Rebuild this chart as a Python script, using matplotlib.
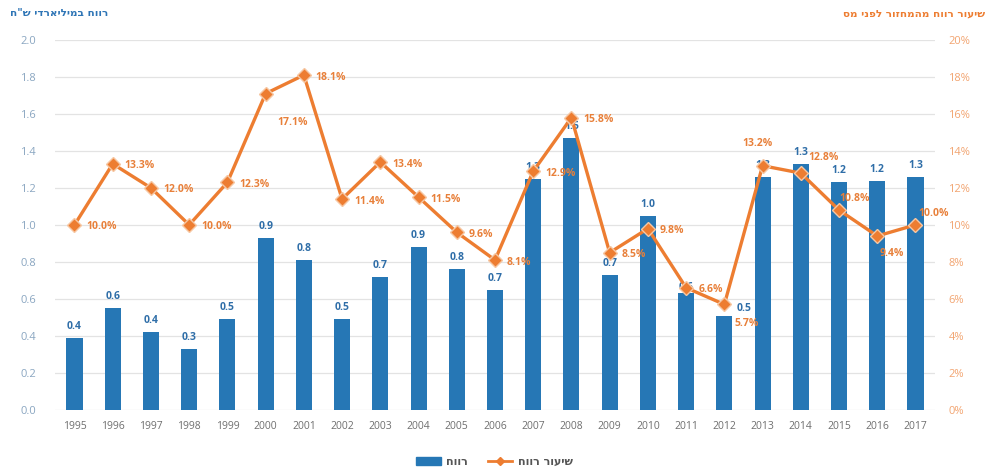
import matplotlib
matplotlib.use("Agg")
import matplotlib.pyplot as plt
from matplotlib.lines import Line2D
from matplotlib.patches import Patch

plt.rcParams['font.family'] = ['Open Sans', 'DejaVu Sans']

years = [str(y) for y in range(1995, 2018)]
profit = [0.39, 0.55, 0.42, 0.33, 0.49, 0.93, 0.81, 0.49, 0.72, 0.88, 0.76, 0.65,
          1.25, 1.47, 0.73, 1.05, 0.63, 0.51, 1.26, 1.33, 1.23, 1.24, 1.26]
profit_labels = ['0.4', '0.6', '0.4', '0.3', '0.5', '0.9', '0.8', '0.5', '0.7', '0.9', '0.8', '0.7',
                 '1.3', '1.5', '0.7', '1.0', '0.6', '0.5', '1.3', '1.3', '1.2', '1.2', '1.3']
rate = [10.0, 13.3, 12.0, 10.0, 12.3, 17.1, 18.1, 11.4, 13.4, 11.5, 9.6, 8.1,
        12.9, 15.8, 8.5, 9.8, 6.6, 5.7, 13.2, 12.8, 10.8, 9.4, 10.0]
left_title = 'רווח במיליארדי ש"ח'
right_title = 'שיעור רווח מהמחזור לפני מס'
bar_name = 'רווח'
line_name = 'שיעור רווח'

def rtl(s):
    return s[::-1]

BLUE = '#2677b5'
ORANGE = '#ed7d31'
BLUE_TXT = '#2f6ea8'
ORANGE_TXT = '#e8803a'

# label offsets in pixels (layout only)
rate_off = [(12, -2)] * 23
rate_off = list(rate_off)
rate_off[5] = (12, -29)
rate_off[17] = (10, -19)
rate_off[18] = (-20, 22)
rate_off[19] = (8, 16)
rate_off[20] = (0, 12)
rate_off[21] = (2, -18)
rate_off[22] = (3, 11)
bar_off = [(0, 6)] * 23
bar_off = list(bar_off)
bar_off[17] = (20, 2)
bar_off[16] = (0, 0)

fig = plt.figure(figsize=(9.89, 4.70), dpi=100)
ax = fig.add_axes([0.056, 0.128, 0.889, 0.787])
ax2 = ax.twinx()

x = list(range(len(years)))
bars = ax.bar(x, profit, width=0.42, color=BLUE, zorder=2)
ax.set_xlim(-0.5, 22.5)
ax.set_ylim(0, 2.0)
ax.set_yticks([i * 0.2 for i in range(11)])
ax.set_yticklabels([f'{i*0.2:.1f}' for i in range(11)])
ax.grid(axis='y', color='#e3e3e3', linewidth=0.9, zorder=0)
ax.set_axisbelow(True)
ax.set_xticks(x)
ax.set_xticklabels(years)
ax.tick_params(axis='x', length=0, labelsize=7.5, colors='#6f6f6f', pad=8)
ax.tick_params(axis='y', length=0, labelsize=8, colors='#8aa6c1', pad=14)
for s in ax.spines.values():
    s.set_visible(False)

ax2.plot(x, [r / 100 for r in rate], color=ORANGE, linewidth=2.4, marker='D',
         markersize=7, markerfacecolor=ORANGE, markeredgecolor='#f6c7a3',
         markeredgewidth=1.0, zorder=3)
ax2.set_ylim(0, 0.2)
ax2.set_yticks([i * 0.02 for i in range(11)])
ax2.set_yticklabels([f'{i*2}%' for i in range(11)])
ax2.tick_params(axis='y', length=0, labelsize=8, colors='#f2a470', pad=10)
for s in ax2.spines.values():
    s.set_visible(False)

for i, (v, lab) in enumerate(zip(profit, profit_labels)):
    ax.annotate(lab, (i, v), xytext=bar_off[i], textcoords='offset pixels',
                ha='center', va='bottom', fontsize=7.5, fontweight='bold', color=BLUE_TXT, zorder=4)

for i, r in enumerate(rate):
    ax2.annotate(f'{r:.1f}%', (i, r / 100), xytext=rate_off[i], textcoords='offset pixels',
                 ha='left', va='center', fontsize=7.5, fontweight='bold', color=ORANGE_TXT, zorder=4)

fig.text(0.010, 0.972, rtl(left_title), ha='left', va='center', fontsize=7.5,
         fontweight='bold', color='#2e75b6', family=['DejaVu Sans'])
fig.text(0.996, 0.972, rtl(right_title), ha='right', va='center', fontsize=7.5,
         fontweight='bold', color=ORANGE, family=['DejaVu Sans'])

handles = [Patch(facecolor=BLUE, edgecolor=BLUE),
           Line2D([0], [0], color=ORANGE, linewidth=2, marker='D', markersize=4,
                  markerfacecolor=ORANGE)]
leg = fig.legend(handles, [rtl(bar_name), rtl(line_name)], loc='center',
                 bbox_to_anchor=(0.5, 0.017), ncol=2, frameon=False,
                 handlelength=2.2, columnspacing=1.8, handletextpad=0.5,
                 prop={'family': 'DejaVu Sans', 'size': 8, 'weight': 'bold'})
for t in leg.get_texts():
    t.set_color('#555555')

fig.savefig('out.png', dpi=100)
